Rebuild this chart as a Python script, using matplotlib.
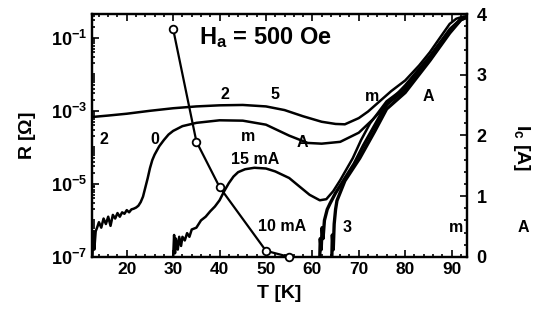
import numpy as np
import matplotlib.pyplot as plt
from matplotlib.ticker import FixedLocator, MultipleLocator, NullFormatter

plt.rcParams['font.family'] = ['Liberation Sans', 'DejaVu Sans']
plt.rcParams['font.weight'] = 'bold'
plt.rcParams['mathtext.fontset'] = 'custom'
plt.rcParams['mathtext.rm'] = 'Liberation Sans:bold'
plt.rcParams['mathtext.it'] = 'Liberation Sans:bold'
plt.rcParams['mathtext.bf'] = 'Liberation Sans:bold'

# critical current Ic(T), right axis
t_ic = [30, 35, 40, 50, 55]
ic = [3.75, 1.9, 1.15, 0.1, 0.0]

# R(T) curves, log10(R)
t_a = [12.5, 16, 20, 25, 30, 35, 40, 45, 50, 54, 58, 62, 65, 67, 70, 72,
       74.5, 77, 80, 83, 85.3, 87.5, 89.6, 91, 92.5, 94]
lr_a = [-3.17, -3.13, -3.08, -3.0, -2.93, -2.88, -2.85, -2.84, -2.88, -2.98,
        -3.15, -3.3, -3.36, -3.37, -3.2, -3.02, -2.74, -2.46, -2.17, -1.76,
        -1.4, -1.0, -0.62, -0.48, -0.42, -0.4]

t_b = [12.6, 12.8, 13.0, 13.3, 13.6, 14, 14.5, 15, 15.5, 16, 16.5, 17, 17.5,
       18, 18.5, 19, 19.5, 20, 20.5, 21, 21.5, 22, 22.5, 23, 23.5, 24, 24.5,
       25, 25.5, 26, 27, 28, 29, 30, 32, 35, 40, 45, 50, 55, 59, 62, 66, 70,
       73, 76, 80, 85.3, 89.6, 92, 94]
lr_b = [-7.0, -6.3, -6.8, -6.3, -6.2, -6.05, -6.2, -5.95, -6.1, -5.9, -6.15,
        -5.85, -5.95, -5.8, -5.9, -5.78, -5.82, -5.72, -5.78, -5.7, -5.68,
        -5.65, -5.6, -5.5, -5.35, -5.1, -4.85, -4.57, -4.35, -4.2, -3.97,
        -3.8, -3.65, -3.55, -3.42, -3.33, -3.26, -3.27, -3.38, -3.68, -3.88,
        -3.9, -3.85, -3.6, -3.24, -2.84, -2.3, -1.5, -0.76, -0.48, -0.4]

t_c = [30, 30.2, 30.4, 30.6, 31, 31.3, 31.7, 32, 32.5, 33, 33.5, 34, 35, 36,
       37, 38, 39, 40, 41, 42, 43, 44, 45.5, 47.5, 50, 52, 55, 57, 59.4, 61.6,
       63, 64.5, 66, 68.7, 70.5, 72.4, 76, 80, 85.3, 89.6, 92, 94]
lr_c = [-7.0, -6.4, -6.9, -6.5, -6.8, -6.45, -6.7, -6.45, -6.55, -6.35,
        -6.45, -6.25, -6.2, -6.0, -5.9, -5.75, -5.62, -5.45, -5.2, -4.98,
        -4.8, -4.68, -4.6, -4.56, -4.58, -4.66, -4.84, -5.05, -5.3, -5.45,
        -5.42, -5.2, -4.9, -4.3, -3.8, -3.35, -2.74, -2.36, -1.56, -0.8,
        -0.49, -0.4]

t_d = [61.6, 61.7, 61.9, 62.1, 62.3, 62.6, 63.2, 63.8, 65, 66, 69, 71, 73,
       76, 80, 85.3, 89.6, 92, 94]
lr_d = [-7.0, -6.5, -6.8, -6.2, -6.5, -6.0, -5.7, -5.54, -5.25, -5.05,
        -4.45, -3.95, -3.5, -2.82, -2.42, -1.6, -0.83, -0.5, -0.4]

t_e = [64.2, 64.3, 64.5, 64.7, 65, 65.3, 67, 70.2, 73.4, 76, 80, 85.3, 89.6,
       92, 94]
lr_e = [-7.0, -6.4, -6.8, -6.1, -5.7, -5.46, -4.92, -4.3, -3.57, -2.95,
        -2.5, -1.63, -0.87, -0.51, -0.4]

# scattered curve labels: (text, T, log10 R, horizontal alignment)
labels = [("2", 15.0, -3.78, "center"), ("0", 26.0, -3.78, "center"),
          ("m", 46.1, -3.70, "center"), ("15 mA", 42.4, -4.32, "left"),
          ("2", 41.1, -2.54, "center"), ("5", 51.9, -2.54, "center"),
          ("m", 72.8, -2.62, "center"), ("A", 84.9, -2.62, "center"),
          ("A", 57.9, -3.86, "center"), ("10 mA", 48.2, -6.16, "left"),
          ("3", 67.4, -6.2, "center"), ("m", 91.0, -6.2, "center"),
          ("A", 105.5, -6.2, "center")]

fig = plt.figure(figsize=(5.41, 3.26), dpi=100)
ax = fig.add_axes([0.170, 0.212, 0.693, 0.745])
ax2 = ax.twinx()

lw = 1.8
for t, lr, w in [(t_a, lr_a, lw), (t_b, lr_b, lw), (t_c, lr_c, lw),
                 (t_d, lr_d, 2.4), (t_e, lr_e, 2.4)]:
    ax.plot(t, 10.0 ** np.array(lr), color='black', lw=w, solid_joinstyle='round')

ax2.plot(t_ic, ic, color='black', lw=1.6, marker='o', ms=5.5,
         mfc='white', mec='black', mew=1.3, clip_on=False, zorder=5)

ax.set_yscale('log')
ax.set_xlim(12.5, 93.3)
ax.set_ylim(1e-7, 10 ** -0.35)
ax2.set_ylim(0, 4)

ax.xaxis.set_major_locator(MultipleLocator(10))
ax.xaxis.set_minor_locator(MultipleLocator(2))
ax.yaxis.set_major_locator(FixedLocator([1e-7, 1e-5, 1e-3, 1e-1]))
ax.yaxis.set_major_formatter(plt.FuncFormatter(
    lambda v, p: r'$10^{%d}$' % round(np.log10(v))))
minors = [m * 10.0 ** k for k in range(-7, 0) for m in range(1, 10)]
ax.yaxis.set_minor_locator(FixedLocator(minors))
ax.yaxis.set_minor_formatter(NullFormatter())
ax2.yaxis.set_major_locator(MultipleLocator(1))
ax2.yaxis.set_minor_locator(MultipleLocator(0.2))

ax.tick_params(which='both', direction='in', top=True, right=False,
               labelsize=13, width=1.2)
ax.tick_params(axis='x', labelsize=12.5)
ax.tick_params(which='major', length=5)
ax.tick_params(which='minor', length=2.5)
ax2.tick_params(which='both', direction='in', labelsize=13, width=1.2)
ax2.tick_params(which='major', length=5, pad=7)
ax2.tick_params(which='minor', length=2.5)
for a in (ax, ax2):
    for s in a.spines.values():
        s.set_linewidth(1.6)

ax.set_xlabel('T [K]', fontsize=14, fontweight='bold', labelpad=6)
ax.set_ylabel(r'R [$\Omega$]', fontsize=14, fontweight='bold', labelpad=9)
ax2.set_ylabel(r'I$_\mathrm{c}$ [A]', fontsize=14, fontweight='bold',
               rotation=270, labelpad=30)
ax2.yaxis.set_label_coords(1.175, 0.45)

ax.text(35.6, 10 ** -1.0, r'H$_\mathrm{a}$ = 500 Oe', fontsize=17,
        fontweight='bold', va='center', ha='left')
for s, t, lr, ha in labels:
    ax.text(t, 10 ** lr, s, fontsize=11.5, fontweight='bold', ha=ha,
            va='center', clip_on=False)

fig.savefig('out.png', dpi=100)
